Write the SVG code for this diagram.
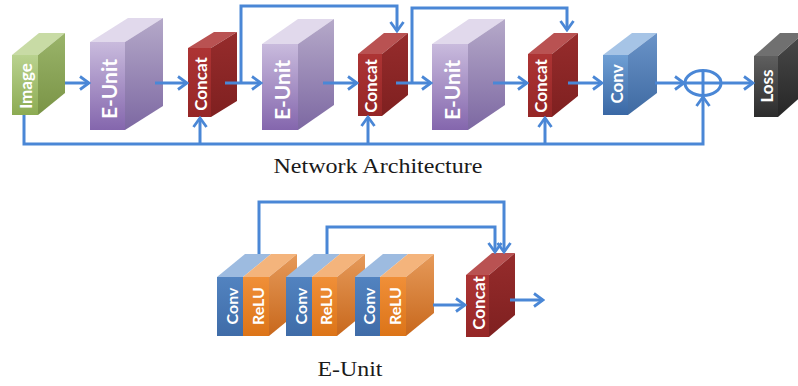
<svg xmlns="http://www.w3.org/2000/svg" width="798" height="386" viewBox="0 0 798 386">
<defs>
<linearGradient id="gImg" x1="0" y1="0" x2="0" y2="1"><stop offset="0" stop-color="#b9d28f"/><stop offset="1" stop-color="#8cab52"/></linearGradient>
<linearGradient id="gImgS" x1="0" y1="0" x2="0" y2="1"><stop offset="0" stop-color="#9ab46a"/><stop offset="1" stop-color="#7a9446"/></linearGradient>
<linearGradient id="gEU" x1="0" y1="0" x2="0" y2="1"><stop offset="0" stop-color="#c9bbdd"/><stop offset="1" stop-color="#8466ad"/></linearGradient>
<linearGradient id="gEUS" x1="0" y1="0" x2="0" y2="1"><stop offset="0" stop-color="#b5a9c9"/><stop offset="1" stop-color="#7d68a2"/></linearGradient>
<linearGradient id="gCat" x1="0" y1="0" x2="0" y2="1"><stop offset="0" stop-color="#ad3434"/><stop offset="1" stop-color="#952626"/></linearGradient>
<linearGradient id="gCatS" x1="0" y1="0" x2="0" y2="1"><stop offset="0" stop-color="#962c2c"/><stop offset="1" stop-color="#7f2020"/></linearGradient>
<linearGradient id="gConv" x1="0" y1="0" x2="0" y2="1"><stop offset="0" stop-color="#6f9fd4"/><stop offset="1" stop-color="#3a68a5"/></linearGradient>
<linearGradient id="gConvS" x1="0" y1="0" x2="0" y2="1"><stop offset="0" stop-color="#6a93c8"/><stop offset="1" stop-color="#3f6aa2"/></linearGradient>
<linearGradient id="gLoss" x1="0" y1="0" x2="0" y2="1"><stop offset="0" stop-color="#5f5f5f"/><stop offset="1" stop-color="#2c2c2c"/></linearGradient>
<linearGradient id="gLossS" x1="0" y1="0" x2="0" y2="1"><stop offset="0" stop-color="#4a4a4a"/><stop offset="1" stop-color="#262626"/></linearGradient>
<linearGradient id="gBC" x1="0" y1="0" x2="0" y2="1"><stop offset="0" stop-color="#5283c0"/><stop offset="1" stop-color="#3f6ca8"/></linearGradient>
<linearGradient id="gBR" x1="0" y1="0" x2="0" y2="1"><stop offset="0" stop-color="#f08f38"/><stop offset="1" stop-color="#dc7418"/></linearGradient>
<linearGradient id="gBRS" x1="0" y1="0" x2="0" y2="1"><stop offset="0" stop-color="#e69a5a"/><stop offset="1" stop-color="#c8681c"/></linearGradient>
<marker id="ah" markerUnits="userSpaceOnUse" markerWidth="14" markerHeight="16" viewBox="0 0 14 16" refX="12" refY="8" orient="auto">
<path d="M3,1.5 L12,8 L3,14.5" fill="none" stroke="#4a87d6" stroke-width="2.8" stroke-linejoin="miter"/>
</marker>
</defs>
<style>
.ln{fill:none;stroke:#4a87d6;stroke-width:3;stroke-linejoin:miter}
.ar{marker-end:url(#ah)}
.bt{font-family:Lato,"Open Sans","Liberation Sans",sans-serif;font-weight:700;fill:#ffffff;text-anchor:middle;dominant-baseline:central}
.cap{font-family:"Liberation Serif","Times New Roman",serif;fill:#1a1a1a;text-anchor:middle}
</style>
<rect width="798" height="386" fill="#ffffff"/>

<!-- Top row nodes -->
<g id="image">
<polygon points="12,55 39,33 65,33 38,55" fill="#c8dba5"/>
<polygon points="38,55 65,33 65,93 38,115" fill="url(#gImgS)"/>
<rect x="12" y="55" width="26" height="60" fill="url(#gImg)"/>
<text class="bt" font-size="17" transform="translate(25,86) rotate(-90)">Image</text>
</g>
<g id="eunit1">
<polygon points="90,42 128,18 163,18 125,42" fill="#e1d9ec"/>
<polygon points="125,42 163,18 163,106 125,130" fill="url(#gEUS)"/>
<rect x="90" y="42" width="35" height="88" fill="url(#gEU)"/>
<text class="bt" font-size="21" transform="translate(108,89) rotate(-90)">E-Unit</text>
</g>
<g id="concat1">
<polygon points="188,48 214,32 237,32 211,48" fill="#b95252"/>
<polygon points="211,48 237,32 237,101 211,117" fill="url(#gCatS)"/>
<rect x="188" y="48" width="23" height="69" fill="url(#gCat)"/>
<text class="bt" font-size="17" transform="translate(200,84) rotate(-90)">Concat</text>
</g>
<g id="eunit2">
<polygon points="262,44 298,19 334,19 298,44" fill="#e1d9ec"/>
<polygon points="298,44 334,19 334,105 298,130" fill="url(#gEUS)"/>
<rect x="262" y="44" width="36" height="86" fill="url(#gEU)"/>
<text class="bt" font-size="21" transform="translate(281,90) rotate(-90)">E-Unit</text>
</g>
<g id="concat2">
<polygon points="358,54 384,33 408,33 382,54" fill="#b95252"/>
<polygon points="382,54 408,33 408,95 382,116" fill="url(#gCatS)"/>
<rect x="358" y="54" width="24" height="62" fill="url(#gCat)"/>
<text class="bt" font-size="17" transform="translate(370,86) rotate(-90)">Concat</text>
</g>
<g id="eunit3">
<polygon points="432,44 469,19 505,19 468,44" fill="#e1d9ec"/>
<polygon points="468,44 505,19 505,105 468,130" fill="url(#gEUS)"/>
<rect x="432" y="44" width="36" height="86" fill="url(#gEU)"/>
<text class="bt" font-size="21" transform="translate(451,90) rotate(-90)">E-Unit</text>
</g>
<g id="concat3">
<polygon points="528,54 554,33 578,33 552,54" fill="#b95252"/>
<polygon points="552,54 578,33 578,96 552,117" fill="url(#gCatS)"/>
<rect x="528" y="54" width="24" height="63" fill="url(#gCat)"/>
<text class="bt" font-size="17" transform="translate(540,86) rotate(-90)">Concat</text>
</g>
<g id="conv">
<polygon points="603,55 632,33 657,33 628,55" fill="#a6c4e6"/>
<polygon points="628,55 657,33 657,93 628,115" fill="url(#gConvS)"/>
<rect x="603" y="55" width="25" height="60" fill="url(#gConv)"/>
<text class="bt" font-size="17" transform="translate(616,84) rotate(-90)">Conv</text>
</g>
<g id="sum">
<ellipse cx="703" cy="83" rx="18" ry="12.5" fill="none" stroke="#4a87d6" stroke-width="3"/>
<line x1="685" y1="83" x2="721" y2="83" stroke="#4a87d6" stroke-width="3"/>
<line x1="703" y1="70.5" x2="703" y2="95.5" stroke="#4a87d6" stroke-width="3"/>
</g>
<g id="loss">
<polygon points="754,56 780,33 804,33 778,56" fill="#707070"/>
<polygon points="778,56 804,33 804,94 778,117" fill="url(#gLossS)"/>
<rect x="754" y="56" width="24" height="61" fill="url(#gLoss)"/>
<text class="bt" font-size="17" transform="translate(766,86) rotate(-90)">Loss</text>
</g>

<!-- E-Unit detail nodes -->
<g id="block1">
<polygon points="217,277 245,254 271,254 243,277" fill="#9dbbe0"/>
<polygon points="243,277 271,254 297,254 269,277" fill="#f4b47c"/>
<polygon points="269,277 297,254 297,313 269,336" fill="url(#gBRS)"/>
<rect x="217" y="277" width="26" height="59" fill="url(#gBC)"/>
<rect x="243" y="277" width="26" height="59" fill="url(#gBR)"/>
<text class="bt" font-size="16" transform="translate(231,306) rotate(-90)">Conv</text>
<text class="bt" font-size="16" transform="translate(257,306) rotate(-90)">ReLU</text>
</g>
<g id="block2">
<polygon points="286,277 314,254 340,254 312,277" fill="#9dbbe0"/>
<polygon points="312,277 340,254 365,254 337,277" fill="#f4b47c"/>
<polygon points="337,277 365,254 365,313 337,336" fill="url(#gBRS)"/>
<rect x="286" y="277" width="26" height="59" fill="url(#gBC)"/>
<rect x="312" y="277" width="25" height="59" fill="url(#gBR)"/>
<text class="bt" font-size="16" transform="translate(300,306) rotate(-90)">Conv</text>
<text class="bt" font-size="16" transform="translate(325,306) rotate(-90)">ReLU</text>
</g>
<g id="block3">
<polygon points="355,277 383,254 408,254 380,277" fill="#9dbbe0"/>
<polygon points="380,277 408,254 434,254 406,277" fill="#f4b47c"/>
<polygon points="406,277 434,254 434,313 406,336" fill="url(#gBRS)"/>
<rect x="355" y="277" width="25" height="59" fill="url(#gBC)"/>
<rect x="380" y="277" width="26" height="59" fill="url(#gBR)"/>
<text class="bt" font-size="16" transform="translate(368,306) rotate(-90)">Conv</text>
<text class="bt" font-size="16" transform="translate(394,306) rotate(-90)">ReLU</text>
</g>
<g id="concat4">
<polygon points="466,275 492,253 515,253 489,275" fill="#b95252"/>
<polygon points="489,275 515,253 515,315 489,337" fill="url(#gCatS)"/>
<rect x="466" y="275" width="23" height="62" fill="url(#gCat)"/>
<text class="bt" font-size="17" transform="translate(478,303) rotate(-90)">Concat</text>
</g>

<!-- Connectors -->
<g id="connectors">
<line class="ln ar" x1="65" y1="83" x2="89" y2="83"/>
<line class="ln ar" x1="155" y1="83" x2="187" y2="83"/>
<line class="ln ar" x1="225" y1="83" x2="261" y2="83"/>
<polyline class="ln ar" points="241,83 241,6 397,6 397,31"/>
<line class="ln ar" x1="323" y1="83" x2="357" y2="83"/>
<line class="ln ar" x1="396" y1="83" x2="431" y2="83"/>
<polyline class="ln ar" points="412,83 412,8 567,8 567,30"/>
<line class="ln ar" x1="493" y1="83" x2="527" y2="83"/>
<line class="ln ar" x1="568" y1="83" x2="602" y2="83"/>
<line class="ln ar" x1="655" y1="83" x2="684" y2="83"/>
<line class="ln ar" x1="721" y1="83" x2="753" y2="83"/>
<polyline class="ln ar" points="24,115 24,144 703,144 703,97"/>
<line class="ln ar" x1="200" y1="144" x2="200" y2="118"/>
<line class="ln ar" x1="368" y1="144" x2="368" y2="117"/>
<line class="ln ar" x1="545" y1="144" x2="545" y2="118"/>
<polyline class="ln ar" points="259,254 259,202 504,202 504,252"/>
<polyline class="ln ar" points="327,254 327,227 495,227 495,252"/>
<line class="ln ar" x1="433" y1="305" x2="465" y2="305"/>
<line class="ln ar" x1="510" y1="300" x2="543" y2="300"/>
</g>

<text class="cap" x="378" y="173" font-size="22" textLength="209" lengthAdjust="spacingAndGlyphs">Network Architecture</text>
<text class="cap" x="350" y="376" font-size="22" textLength="65" lengthAdjust="spacingAndGlyphs">E-Unit</text>
</svg>
